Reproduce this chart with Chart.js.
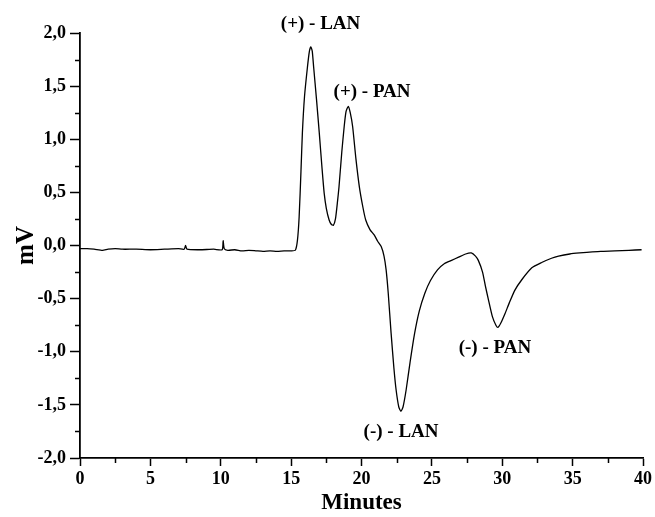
<!DOCTYPE html>
<html>
<head>
<meta charset="utf-8">
<script src="https://cdn.jsdelivr.net/npm/chart.js@4/dist/chart.umd.min.js"></script>
<style>
html,body{margin:0;padding:0;background:#fff;}
#wrap{width:655px;height:517px;position:relative;}
</style>
</head>
<body>
<div id="wrap"><canvas id="c" width="655" height="517"></canvas></div>
<script>
const minutes = [0,0.5,1.0,1.6,2.0,2.5,3.0,4.0,5.0,6.0,7.0,7.4,7.5,7.6,8.5,9.5,10.1,10.17,10.25,10.5,11.0,11.5,12.0,12.5,13.0,13.5,14.0,14.5,15.0,15.3,
  15.45,15.57,15.7,15.8,15.95,16.16,16.3,16.4,16.5,16.6,16.8,17.0,17.2,17.35,17.5,17.7,17.85,18.0,18.15,18.3,18.4,18.6,18.77,18.9,19.06,19.2,19.37,19.6,19.85,20.1,20.3,20.6,20.9,21.15,21.4,21.6,21.75,21.9,22.1,22.3,22.46,22.65,22.8,22.95,23.17,23.45,23.77,24.1,24.5,24.9,25.4,25.9,26.4,26.9,27.4,27.8,28.1,28.3,28.6,28.8,29.0,29.3,29.55,29.7,29.9,30.2,30.5,30.9,31.4,32.1,32.8,33.5,34.0,34.8,35.5,36.4,37.2,38.0,39.0,39.9];
const signalMV = [-0.03,-0.03,-0.035,-0.045,-0.035,-0.03,-0.035,-0.035,-0.04,-0.035,-0.03,-0.035,0.0,-0.035,-0.04,-0.035,-0.04,0.045,-0.03,-0.045,-0.04,-0.05,-0.045,-0.05,-0.055,-0.05,-0.055,-0.05,-0.05,-0.045,
  0.05,0.27,0.7,1.06,1.4,1.68,1.83,1.87,1.83,1.68,1.38,1.06,0.72,0.49,0.35,0.24,0.2,0.19,0.25,0.42,0.55,0.88,1.12,1.26,1.31,1.25,1.12,0.82,0.55,0.36,0.24,0.15,0.1,0.04,-0.01,-0.1,-0.23,-0.45,-0.82,-1.15,-1.36,-1.52,-1.56,-1.52,-1.36,-1.1,-0.83,-0.62,-0.45,-0.33,-0.23,-0.17,-0.14,-0.11,-0.08,-0.07,-0.1,-0.14,-0.25,-0.38,-0.5,-0.67,-0.75,-0.77,-0.73,-0.64,-0.54,-0.42,-0.32,-0.21,-0.16,-0.12,-0.1,-0.08,-0.07,-0.06,-0.055,-0.05,-0.045,-0.04];
const peakLabels = ["(+) - LAN","(+) - PAN","(-) - LAN","(-) - PAN"];
const peakLabelX = [17.09,20.75,22.81,29.48];
const peakLabelY = [2.04,1.40,-1.80,-1.01];
const xTickLabels = ["0","5","10","15","20","25","30","35","40"];
const yTickLabels = ["-2,0","-1,5","-1,0","-0,5","0,0","0,5","1,0","1,5","2,0"];
const xMinorTicks = [2.5,7.5,12.5,17.5,22.5,27.5,32.5,37.5];
const yMinorTicks = [-1.75,-1.25,-0.75,-0.25,0.25,0.75,1.25,1.75];

const FONT = "'Liberation Serif', 'Times New Roman', serif";

const labelPlugin = {
  id: 'peakLabels',
  afterDatasetsDraw(chart){
    const ctx = chart.ctx, xs = chart.scales.x, ys = chart.scales.y;
    ctx.save();
    ctx.strokeStyle = '#000';
    ctx.lineWidth = 1.5;
    ctx.beginPath();
    xMinorTicks.forEach(v => {
      const px = Math.round(xs.getPixelForValue(v)) + 0.5;
      ctx.moveTo(px, xs.top); ctx.lineTo(px, xs.top + 5);
    });
    yMinorTicks.forEach(v => {
      const py = Math.round(ys.getPixelForValue(v)) + 0.5;
      ctx.moveTo(ys.right, py); ctx.lineTo(ys.right - 5, py);
    });
    ctx.stroke();
    ctx.fillStyle = '#000';
    ctx.font = 'bold 19px ' + FONT;
    ctx.textAlign = 'center';
    ctx.textBaseline = 'alphabetic';
    peakLabels.forEach((t,i)=>{
      ctx.fillText(t, xs.getPixelForValue(peakLabelX[i]), ys.getPixelForValue(peakLabelY[i]));
    });
    ctx.restore();
  }
};

new Chart(document.getElementById('c'), {
  type: 'line',
  data: {
    datasets: [{
      data: minutes.map((m,i)=>({x:m, y:signalMV[i]})),
      borderColor: '#000',
      borderWidth: 1.3,
      pointRadius: 0,
      tension: 0.2,
      fill: false
    }]
  },
  options: {
    responsive: false,
    animation: false,
    devicePixelRatio: 1,
    layout: { padding: { top: 33, right: 12, left: 0, bottom: 0 } },
    plugins: { legend: { display: false }, tooltip: { enabled: false } },
    scales: {
      x: {
        type: 'linear', min: 0, max: 40,
        border: { display: true, color: '#000', width: 1.8 },
        grid: { display: true, drawOnChartArea: false, drawTicks: true, tickLength: 8, color: '#000', tickWidth: 1.5 },
        ticks: {
          stepSize: 5, autoSkip: false, maxRotation: 0, color: '#000', padding: 3,
          font: { family: FONT, weight: 'bold', size: 18 },
          callback: (v) => xTickLabels[Math.round(v/5)]
        },
        title: { display: true, text: 'Minutes', color: '#000', padding: { top: 0, bottom: 0 },
          font: { family: FONT, weight: 'bold', size: 23 } },
        afterFit: (s) => { s.height = 59; }
      },
      y: {
        type: 'linear', min: -2, max: 2,
        border: { display: true, color: '#000', width: 1.8 },
        grid: { display: true, drawOnChartArea: false, drawTicks: true, tickLength: 10, color: '#000', tickWidth: 1.5 },
        ticks: {
          stepSize: 0.5, autoSkip: false, color: '#000', padding: 4,
          font: { family: FONT, weight: 'bold', size: 18 },
          callback: (v) => yTickLabels[Math.round(v*2)+4]
        },
        title: { display: true, text: 'mV', color: '#000', padding: { top: 12, bottom: 0 },
          font: { family: FONT, weight: 'bold', size: 25 } },
        afterFit: (s) => { s.width = 80; }
      }
    }
  },
  plugins: [labelPlugin]
});
</script>
</body>
</html>
